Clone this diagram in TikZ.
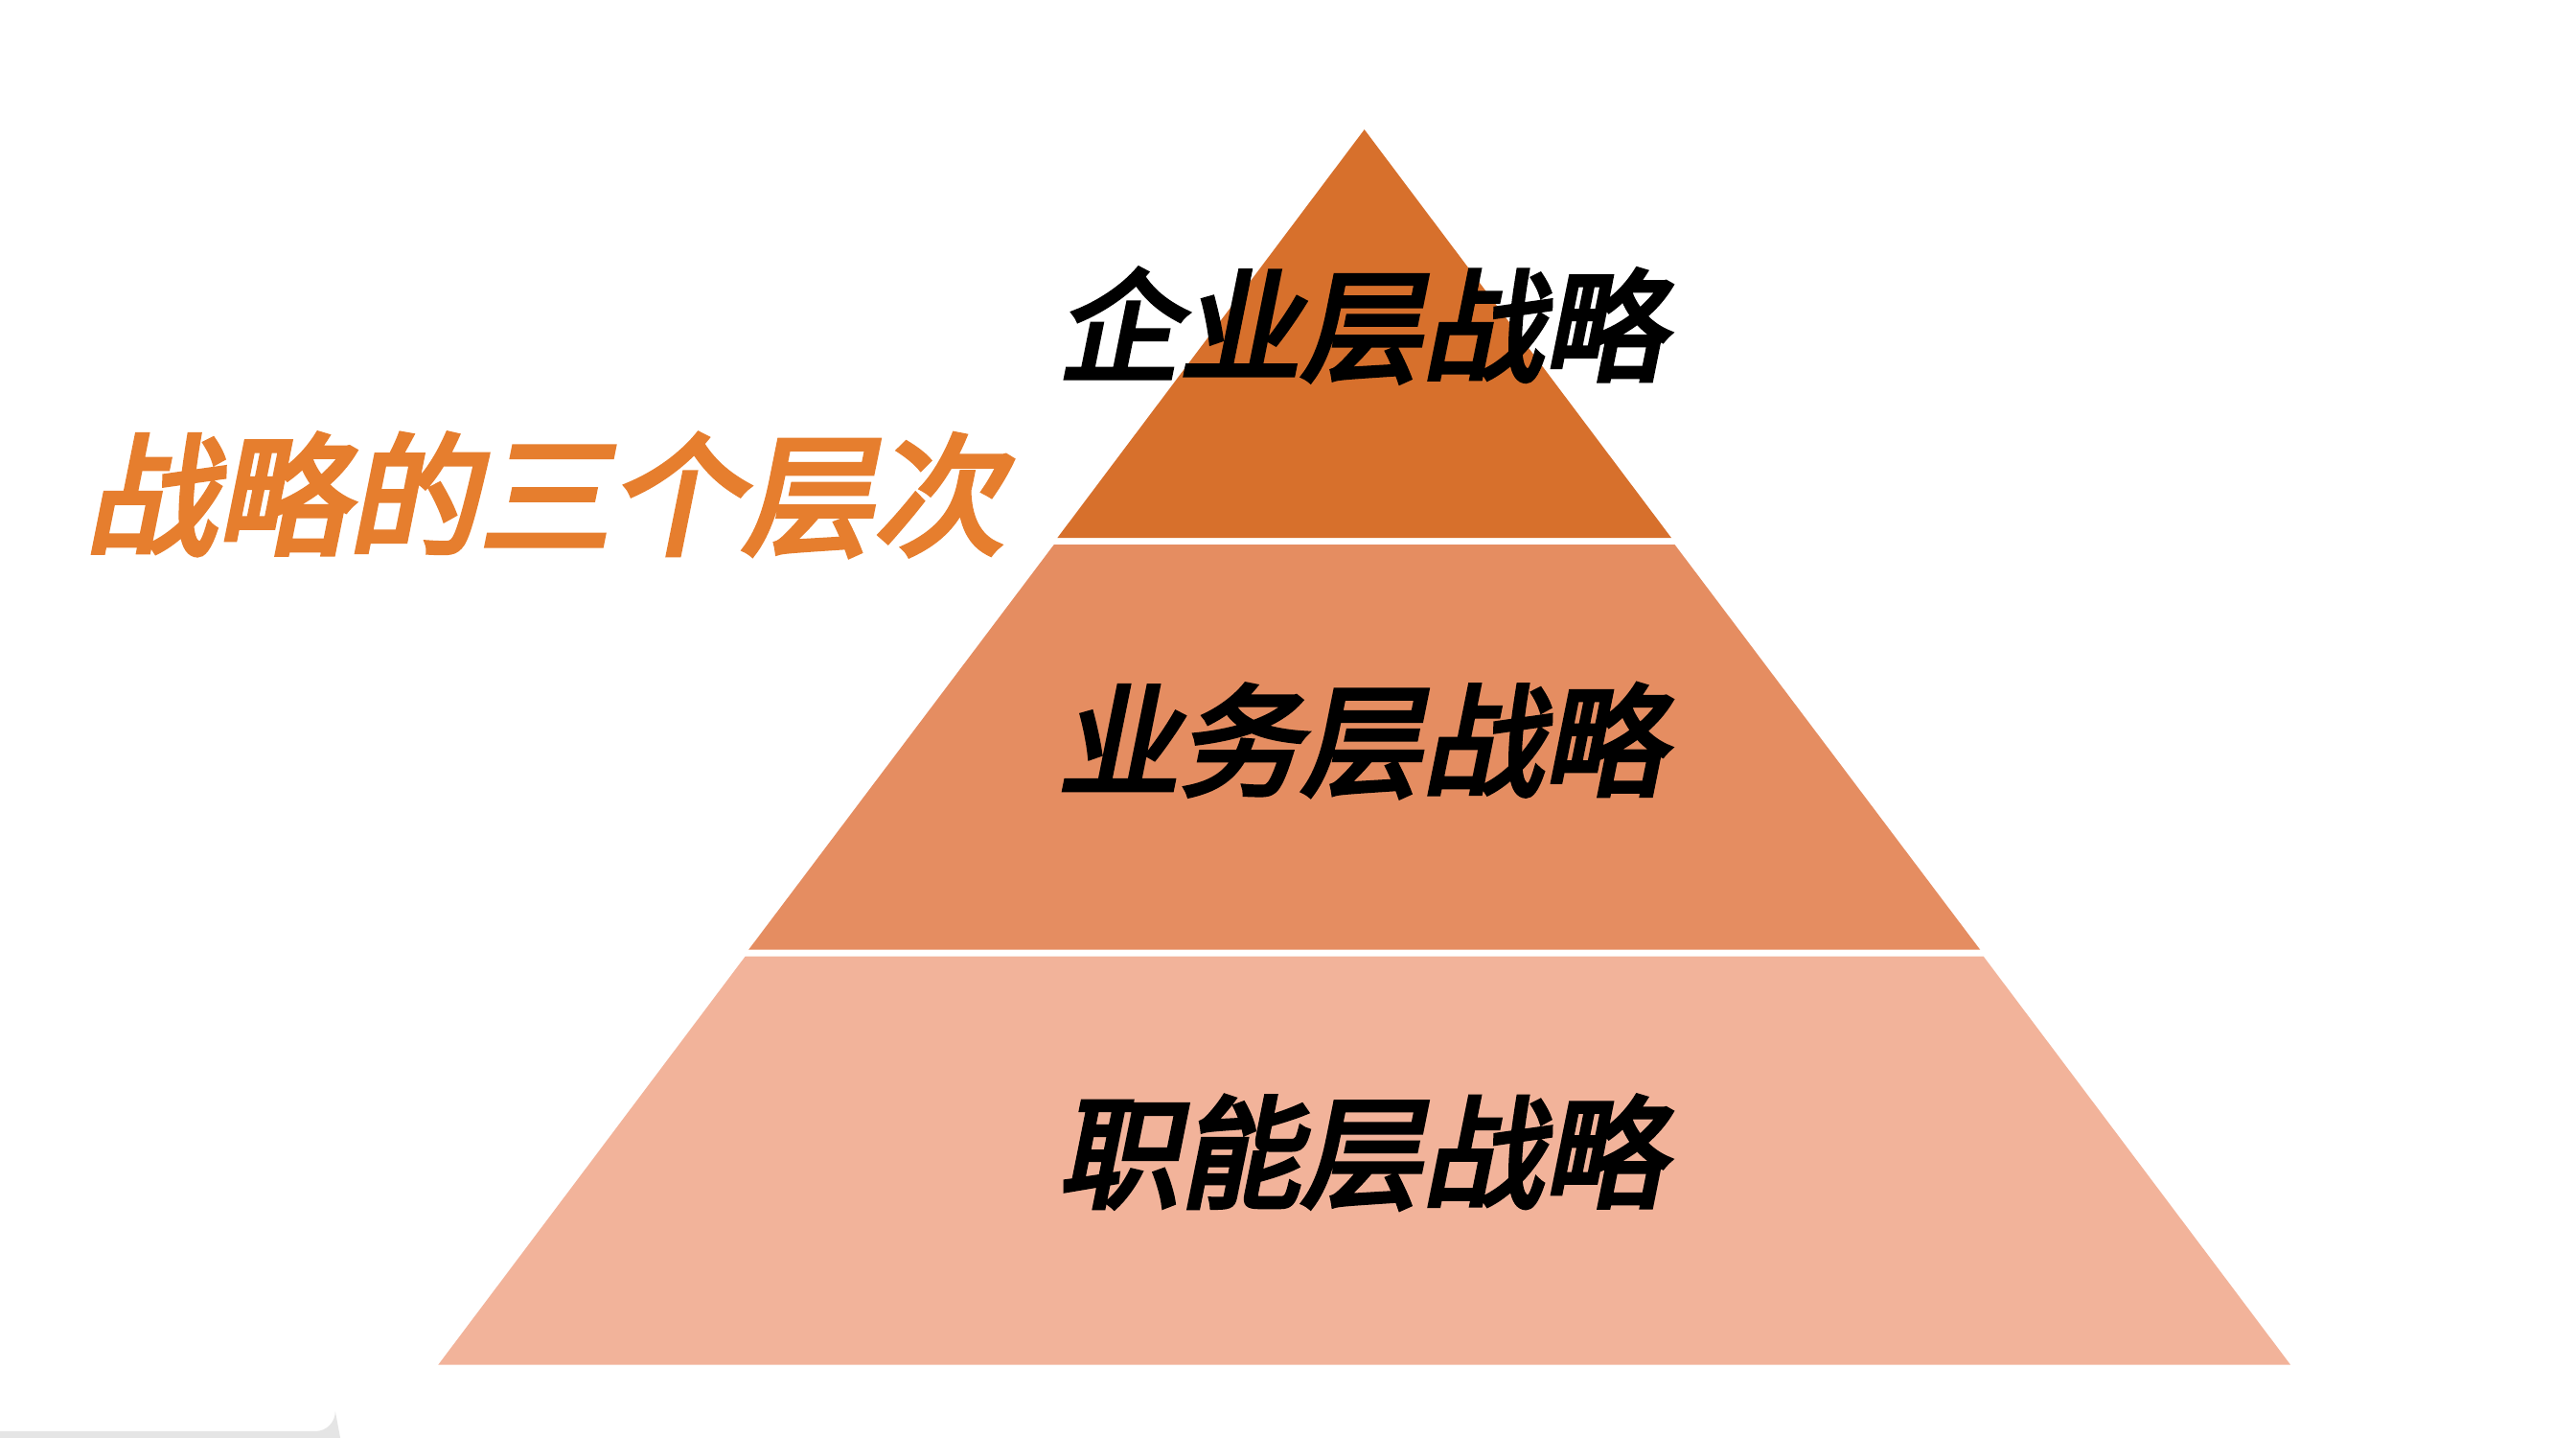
\documentclass[tikz,border=0pt]{standalone}
\usepackage{fontspec}
\newfontfamily\cjk[FakeSlant=0.2,FakeBold=4]{Noto Sans CJK SC}
\definecolor{top}{HTML}{D7702C}
\definecolor{mid}{HTML}{E58D61}
\definecolor{bot}{HTML}{F2B39A}
\definecolor{ttl}{HTML}{E67E2E}
\begin{document}
\begin{tikzpicture}[x=0.01732cm,y=-0.01732cm,
  lbl/.style={font=\cjk\fontsize{36}{40}\selectfont,text=black,inner sep=0},
  ttlstyle/.style={font=\cjk\fontsize{39}{44}\selectfont,text=ttl,inner sep=0}]
\useasboundingbox[fill=white] (0,0) rectangle (1552,866);
\fill[top] (822,78) -- (1007,324) -- (637,324) -- cycle;
\fill[mid] (635,328) -- (1009,328) -- (1193,572) -- (451,572) -- cycle;
\fill[bot] (449,576) -- (1195,576) -- (1380,822) -- (264,822) -- cycle;
\fill[gray!20] (0,862) -- (190,862) arc[start angle=90,end angle=0,radius=12] -- (205,866) -- (0,866) -- cycle;
\node[lbl] (t1) at (820,196) {企业层战略};
\node[lbl] (t2) at (820,446) {业务层战略};
\node[lbl] (t3) at (820,694) {职能层战略};
\node[ttlstyle] (h) at (328,298) {战略的三个层次};
\end{tikzpicture}
\end{document}
